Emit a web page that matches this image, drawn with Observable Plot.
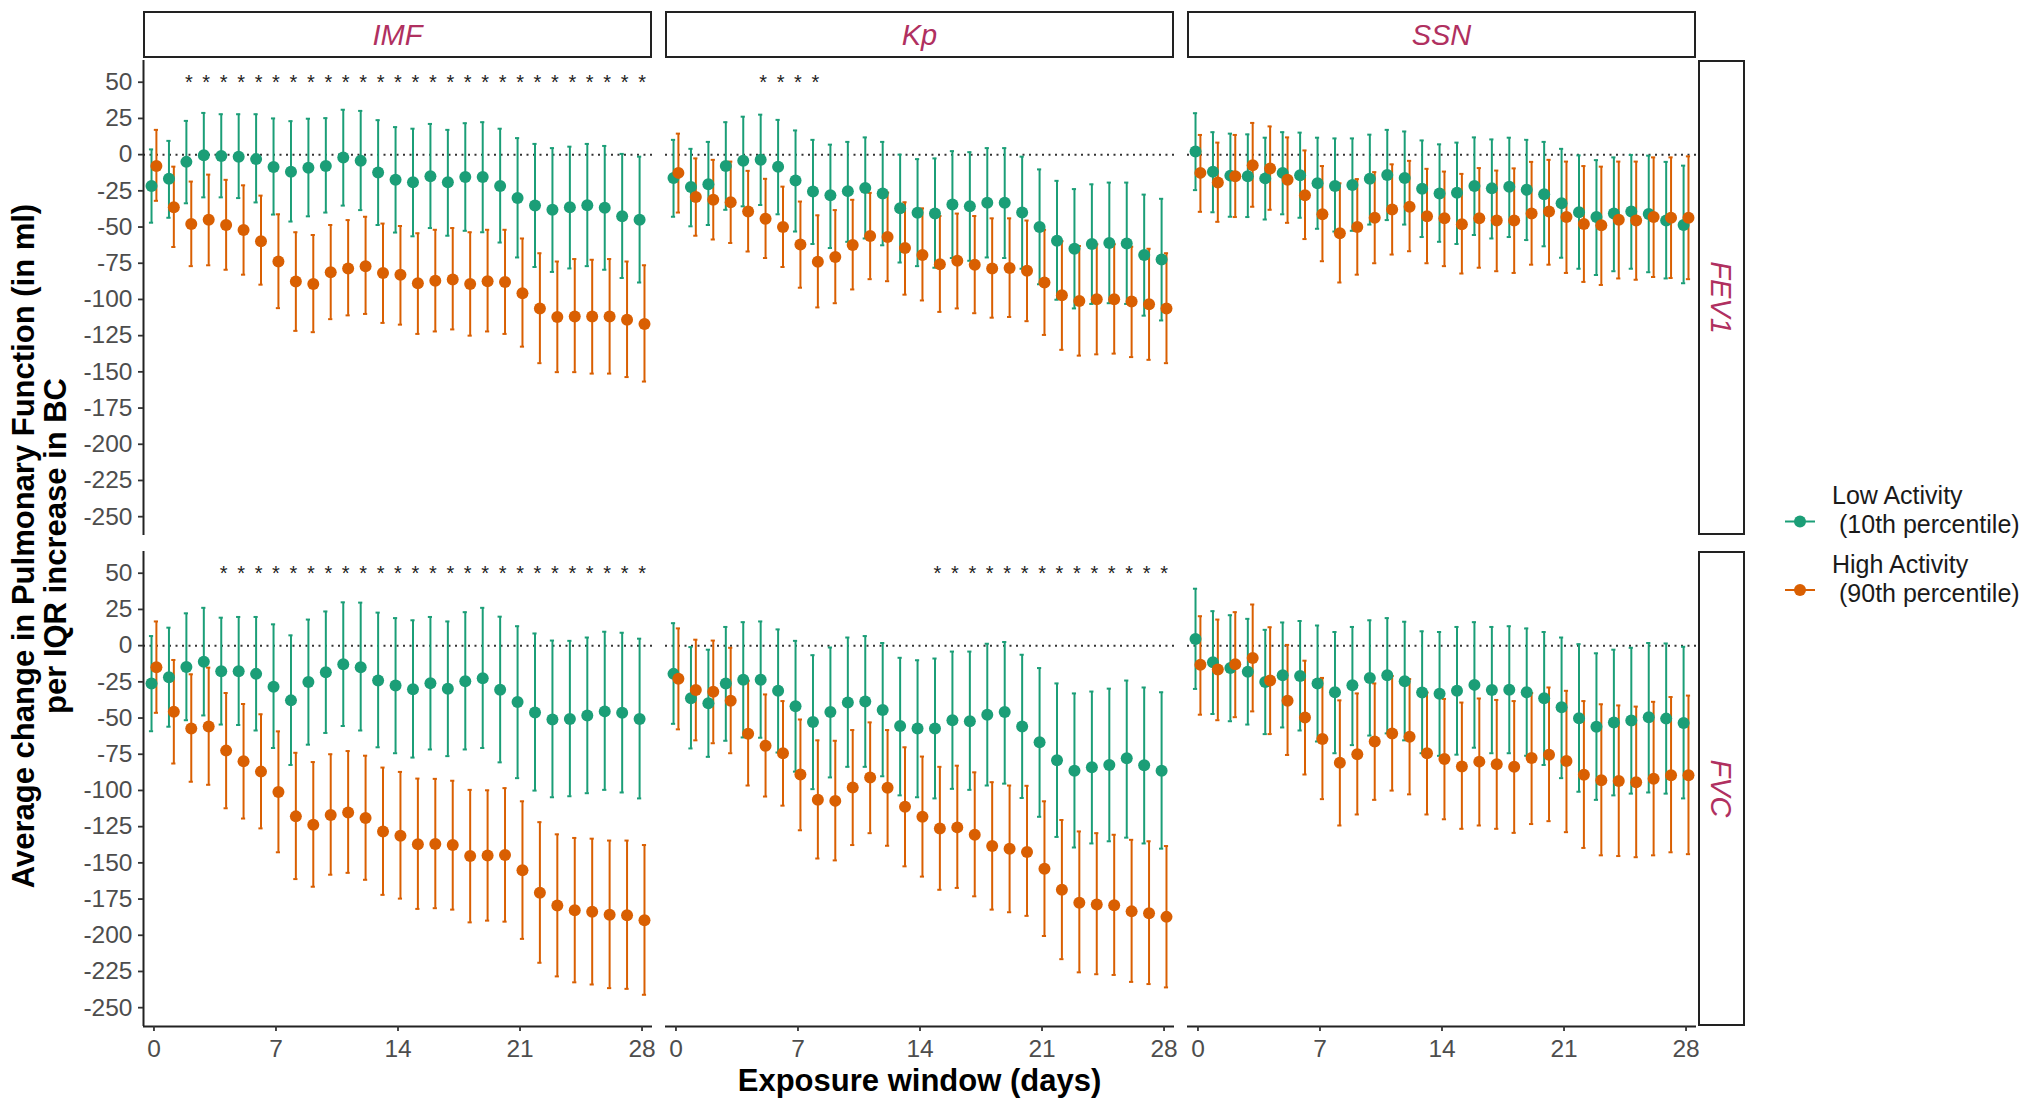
<!DOCTYPE html>
<html><head><meta charset="utf-8">
<script src="https://cdn.jsdelivr.net/npm/d3@7"></script>
<script src="https://cdn.jsdelivr.net/npm/@observablehq/plot@0.6"></script>
<style>
body{margin:0;background:#fff}
#chart{position:relative;width:2040px;height:1108px;background:#fff}
</style>
</head><body><div id="chart"></div>
<script>
// ---------------- data ----------------
const exposures = ["IMF", "Kp", "SSN"];
const outcomes = ["FEV1", "FVC"];
const groups = ["Low", "High"];
const groupLabels = [["Low Activity", "(10th percentile)"], ["High Activity", "(90th percentile)"]];
const groupColors = ["#1B9E77", "#D95F02"];
const days = [0,1,2,3,4,5,6,7,8,9,10,11,12,13,14,15,16,17,18,19,20,21,22,23,24,25,26,27,28];
const xTicks = [0, 7, 14, 21, 28];
const yTicks = [50,25,0,-25,-50,-75,-100,-125,-150,-175,-200,-225,-250];

// IMF / FEV1
const imfFev1LowEst = [-21.7,-16.7,-5,-0.5,-1,-1.4,-3.1,-8.6,-11.9,-9,-7.9,-1.9,-4.3,-12.4,-17.4,-19,-15,-19,-15.5,-15.5,-21.7,-30,-35.2,-38,-36.4,-35,-36.7,-42.6,-45];
const imfFev1LowLo  = [-47,-43.6,-33.6,-29.5,-29.5,-30,-33,-41.4,-46.2,-42.6,-40,-35.2,-38.3,-48.6,-53.8,-56.4,-50.7,-56,-52.6,-53.6,-60.7,-71,-77.6,-81,-78.6,-77,-79.5,-85.2,-88.3];
const imfFev1LowHi  = [3.6,9.5,23.3,28.8,27.9,27.9,27.9,25,23.1,24.8,25.2,31,30.2,23.8,19,17.9,21.2,17.1,21.7,22.4,17.9,11.4,7.4,4.5,5.5,7.4,6,0.5,-1.4];
const imfFev1HighEst = [-7.9,-36.4,-47.9,-45,-48.6,-52.1,-59.8,-73.8,-87.6,-89.3,-81.2,-78.6,-77,-81.7,-83,-88.8,-87.1,-86.2,-89.3,-87.4,-87.9,-95.7,-106.2,-112.1,-111.7,-111.7,-111.7,-114,-116.9];
const imfFev1HighLo  = [-31.9,-63.8,-77,-76.4,-79.5,-82.9,-89.8,-106,-121.7,-122.6,-113.6,-111,-110,-116.2,-117.4,-123.8,-122.1,-120.7,-125,-122.1,-123.8,-132.6,-144,-150.2,-150.2,-151.2,-151.2,-153.6,-156.7];
const imfFev1HighHi  = [17.1,-8.3,-18.6,-13.8,-17.4,-21.2,-28.3,-41.2,-53.6,-55.5,-48.6,-45.2,-42.9,-47.6,-49.3,-54.3,-51.9,-50.7,-53.6,-51.9,-51.9,-57.9,-68.1,-73.8,-72.1,-72.6,-72.1,-73.8,-76.4];
const imfFev1Stars = [2,3,4,5,6,7,8,9,10,11,12,13,14,15,16,17,18,19,20,21,22,23,24,25,26,27,28];

// Kp / FEV1
const kpFev1LowEst = [-16.2,-22.4,-20.5,-7.9,-4.3,-3.6,-8.3,-17.9,-25.5,-28.1,-25.2,-23.1,-26.9,-37.1,-40.2,-40.7,-34.5,-35.7,-33.3,-33.3,-40,-50,-59.5,-65,-61.7,-61,-61.4,-69.3,-72.4];
const kpFev1LowLo  = [-42.9,-49.5,-48.6,-38.1,-35.7,-34.8,-41.2,-53.1,-61.7,-64.5,-60.2,-57.9,-62.6,-74.5,-77,-78.1,-71.4,-73.3,-71,-71.4,-78.8,-89.5,-100.2,-106.2,-103.1,-102.6,-103.1,-111.2,-114.5];
const kpFev1LowHi  = [10.2,4,8.8,22.4,26.2,27.6,24,16.7,10.2,6.9,8.8,11.9,8.8,0,-3.1,-2.6,2.4,1.7,4.5,4.5,-1.4,-10.2,-18.1,-23.8,-20.5,-19.3,-19.3,-27.6,-30.5];
const kpFev1HighEst = [-12.6,-29.3,-31.2,-32.9,-39.3,-44.3,-50,-62.1,-74,-70.7,-62.4,-56.2,-56.9,-64.5,-69.3,-75.7,-73.3,-76,-78.6,-78.3,-80.2,-88.3,-97.1,-101,-99.8,-99.8,-101.4,-103.3,-106.2];
const kpFev1HighLo  = [-40,-56,-58.6,-61,-66.9,-71.4,-77.6,-91.9,-105.5,-102.6,-93.1,-86,-87.4,-96.7,-100.7,-108.6,-106.2,-109.5,-112.6,-112.1,-115,-124.5,-134.8,-138.8,-137.9,-137.4,-139.8,-141.7,-144];
const kpFev1HighHi  = [14.5,-2.6,-3.6,-4.8,-11.2,-16.7,-22.1,-32.4,-41.9,-38.3,-31.2,-26.4,-26.2,-32.9,-37.1,-42.4,-40.7,-42.4,-44,-44,-45.5,-51.9,-59.8,-63.1,-61.9,-61.9,-63.6,-65,-68.1];
const kpFev1Stars = [5,6,7,8];

// SSN / FEV1
const ssnFev1LowEst = [2.1,-11.9,-14.5,-15,-16.4,-12.6,-14.3,-19.8,-21.7,-21,-16.7,-14,-16.2,-23.6,-26.9,-26.4,-21.7,-23.3,-22.1,-24.3,-27.4,-33.6,-39.8,-43.1,-40.7,-39.3,-41,-45.5,-48.6];
const ssnFev1LowLo  = [-24.5,-39.8,-42.9,-43.1,-44.8,-41.2,-43.6,-51.2,-53.1,-52.6,-48.3,-45.2,-48.3,-56.9,-60.2,-61.7,-55.5,-57.9,-56.9,-59,-63.3,-71.2,-78.8,-83.1,-80.5,-78.8,-81.2,-85.5,-88.8];
const ssnFev1LowHi  = [28.6,15.5,14.5,14,11.7,15.5,15.2,11.7,11.2,11.2,13.8,17.1,16,9.8,7.1,8.3,11.9,10.5,11.7,10.2,8.8,4,-0.5,-3.8,-1.9,-0.2,-0.7,-5,-7.6];
const ssnFev1HighEst = [-12.6,-19.3,-15,-7.4,-9.5,-17.4,-28.1,-41.2,-54.3,-50,-43.6,-37.9,-36,-42.6,-44,-48.1,-44,-45.5,-45.5,-40.7,-39.3,-43.1,-47.9,-48.8,-45,-45.5,-43.1,-43.6,-43.6];
const ssnFev1HighLo  = [-39.5,-46.4,-43.1,-36,-38.1,-47.1,-58.3,-73.6,-88.3,-82.9,-75,-69,-66.7,-75,-77,-82.1,-78.1,-80.5,-81.7,-76,-76,-81.7,-87.9,-90,-85.5,-86.4,-84.5,-85.2,-86];
const ssnFev1HighHi  = [13.6,8.3,13.6,21.9,19.5,11.9,2.9,-7.9,-19.8,-16.9,-12.1,-6.7,-4.3,-9.8,-11.7,-13.3,-9.3,-11,-9.5,-5,-3.6,-4.8,-7.9,-8.3,-4.8,-4.8,-1.9,-1.9,-1.2];
const ssnFev1Stars = [];

// IMF / FVC
const imfFvcLowEst = [-26.1,-21.8,-14.7,-11.2,-17.7,-17.7,-19.5,-28.4,-37.8,-25.1,-18.3,-12.9,-15,-24.1,-27.6,-30.2,-25.9,-29.7,-24.6,-22.6,-30.4,-39,-46.1,-51,-50.7,-48.2,-45.4,-46.4,-50.7];
const imfFvcLowLo  = [-59.1,-56,-51.5,-48.2,-54.5,-54.8,-58.6,-70.7,-82.4,-68.4,-60.3,-55.5,-58.6,-70.2,-74.3,-77.3,-71.7,-76.3,-71.7,-70.7,-80.6,-91.5,-100.1,-104.7,-104,-101.9,-99.6,-101.4,-105.5];
const imfFvcLowHi  = [6.6,12.4,22.3,26.1,19.3,19.8,19.8,14.7,7.1,18,23.6,29.9,29.7,22.8,19,17.5,19.8,16.7,23.1,26.1,20,13.4,8.4,3.5,3.3,5.6,9.6,8.9,4.8];
const imfFvcHighEst = [-15,-45.6,-57.3,-55.8,-72.5,-79.9,-87,-101.1,-117.9,-123.7,-116.9,-115.3,-119.1,-128.3,-131.3,-137.2,-136.9,-137.7,-145.3,-145,-144.5,-155.1,-170.6,-179.5,-182.8,-183.8,-185.8,-186.1,-189.6];
const imfFvcHighLo  = [-46.4,-81.4,-94,-96.1,-112.3,-119.4,-126.2,-142.7,-161.2,-166.5,-158.2,-156.9,-161.7,-172.1,-174.7,-181.8,-181.3,-182.3,-191.1,-189.9,-190.6,-202.5,-219,-228.4,-232.5,-234,-236.5,-237,-241.1];
const imfFvcHighHi  = [16.7,-9.9,-19.8,-15.2,-32.7,-40.3,-47.4,-59.2,-74,-80.4,-75,-72.8,-76,-84.2,-87.2,-91.8,-92,-93.3,-99.6,-99.9,-98.4,-107.5,-121.9,-130.3,-132.8,-133.3,-134.6,-134.6,-137.7];
const imfFvcStars = [4,5,6,7,8,9,10,11,12,13,14,15,16,17,18,19,20,21,22,23,24,25,26,27,28];

// Kp / FVC
const kpFvcLowEst = [-19.5,-36.3,-39.8,-26.1,-23.6,-23.6,-31.2,-41.8,-52.7,-45.9,-39.3,-38.5,-44.4,-55.5,-57.3,-57.3,-51.5,-52.2,-47.7,-45.9,-55.8,-66.7,-79.1,-86.4,-83.9,-82.4,-77.8,-82.6,-86.4];
const kpFvcLowLo  = [-54,-71,-76.8,-65.7,-63.4,-63.6,-73.8,-87,-99.1,-91,-83.7,-83.7,-90.2,-103.4,-104.7,-105.5,-98.9,-99.6,-96.6,-95.3,-105.2,-118.2,-132.1,-139.4,-136.6,-135.1,-132.6,-136.6,-140.2];
const kpFvcLowHi  = [15.5,-1,-2.8,12.9,16.2,16.7,11.2,3.3,-6.6,-1.3,5.6,6.6,1.8,-8.4,-10.1,-8.9,-4.1,-4.1,1.3,2.5,-6.3,-15.5,-26.1,-33,-31.7,-29.7,-24.1,-28.9,-32.2];
const kpFvcHighEst = [-22.8,-30.7,-31.9,-38,-60.8,-69.2,-74.3,-89,-106.5,-107.2,-97.9,-91,-98.1,-111.3,-118.1,-126.2,-125.5,-130.6,-138.4,-140.2,-142.5,-154.1,-168.6,-177.5,-178.7,-179.2,-183.5,-184.8,-187.3];
const kpFvcHighLo  = [-57.8,-65.4,-67.4,-74.3,-96.6,-104.2,-110.5,-127.5,-147,-148.3,-137.7,-129.5,-138.2,-152.4,-159.5,-168.6,-167.3,-173.1,-182.3,-184.1,-186.6,-200.5,-216.5,-225.6,-226.9,-227.4,-232.2,-233.7,-236];
const kpFvcHighHi  = [11.9,4.1,3.5,-1.5,-24.3,-33.7,-38.3,-51,-65.4,-65.7,-58.3,-53,-58.3,-70.2,-76.6,-83.7,-82.9,-87.5,-94.3,-96.6,-96.8,-107.5,-120.4,-128.3,-129.5,-130.6,-134.1,-135.1,-138.4];
const kpFvcStars = [15,16,17,18,19,20,21,22,23,24,25,26,27,28];

// SSN / FVC
const ssnFvcLowEst = [4.6,-11.4,-15.5,-18,-25.1,-20.5,-21,-26.1,-32.2,-27.4,-22.3,-20.5,-24.6,-32.4,-33.2,-31.2,-27.1,-30.7,-30.4,-32.2,-36.3,-42.6,-50.2,-56,-53,-51.7,-49.4,-50.4,-53.5];
const ssnFvcLowLo  = [-29.9,-47.2,-52.2,-54.5,-61.1,-56.5,-58.6,-66.2,-74.3,-68.7,-62.1,-60.6,-65.4,-74.3,-76.1,-75.3,-70.5,-74.3,-74.3,-76.1,-82.4,-91.5,-100.9,-106.5,-103.4,-102.2,-101.4,-102.2,-105.5];
const ssnFvcLowHi  = [39.3,23.8,21,18.5,10.9,16,17,13.9,9.4,12.9,17.5,19,16.5,9.9,9.4,12.9,16.2,12.9,13.4,11.9,9.4,5.6,1,-5.3,-2.8,-1.5,1.8,1.5,-0.8];
const ssnFvcHighEst = [-13.2,-16.5,-12.9,-8.6,-24.1,-38,-49.7,-64.4,-80.9,-75,-66.2,-60.6,-62.9,-74.3,-78.3,-83.4,-80.1,-81.9,-83.7,-77.6,-75.3,-79.6,-89.2,-93,-93.5,-94.3,-92,-89.5,-89.5];
const ssnFvcHighLo  = [-47.7,-51.5,-49.4,-45.4,-61.1,-75.5,-89,-106,-124.2,-116.6,-106.5,-100.1,-102.7,-116.6,-119.9,-126.5,-124.2,-126.5,-129.3,-123.2,-121.2,-128.8,-139.7,-144.8,-145.3,-146.1,-144.8,-142.7,-144];
const ssnFvcHighHi  = [20.3,18,23.1,28.4,12.7,0.5,-10.4,-22.3,-37.8,-33,-26.1,-21,-23.1,-32.4,-36.8,-39.3,-36.5,-37.5,-38.3,-32.7,-28.9,-31.2,-38.3,-40.5,-41.3,-42.1,-38.8,-35.5,-34.5];
const ssnFvcStars = [];

const starLevel = 53.5; // value at which the significance stars sit

// --------------- assemble tables ---------------
const panels = [
  {fx: "IMF", fy: "FEV1", Low: [imfFev1LowEst, imfFev1LowLo, imfFev1LowHi], High: [imfFev1HighEst, imfFev1HighLo, imfFev1HighHi], stars: imfFev1Stars},
  {fx: "Kp",  fy: "FEV1", Low: [kpFev1LowEst, kpFev1LowLo, kpFev1LowHi], High: [kpFev1HighEst, kpFev1HighLo, kpFev1HighHi], stars: kpFev1Stars},
  {fx: "SSN", fy: "FEV1", Low: [ssnFev1LowEst, ssnFev1LowLo, ssnFev1LowHi], High: [ssnFev1HighEst, ssnFev1HighLo, ssnFev1HighHi], stars: ssnFev1Stars},
  {fx: "IMF", fy: "FVC",  Low: [imfFvcLowEst, imfFvcLowLo, imfFvcLowHi], High: [imfFvcHighEst, imfFvcHighLo, imfFvcHighHi], stars: imfFvcStars},
  {fx: "Kp",  fy: "FVC",  Low: [kpFvcLowEst, kpFvcLowLo, kpFvcLowHi], High: [kpFvcHighEst, kpFvcHighLo, kpFvcHighHi], stars: kpFvcStars},
  {fx: "SSN", fy: "FVC",  Low: [ssnFvcLowEst, ssnFvcLowLo, ssnFvcLowHi], High: [ssnFvcHighEst, ssnFvcHighLo, ssnFvcHighHi], stars: ssnFvcStars}
];
const dodge = {Low: -0.14, High: 0.14};
const capHalf = 0.12;

const rows = panels.flatMap(p => groups.flatMap(g => days.map((d, i) => ({
  fx: p.fx, fy: p.fy, group: g, day: d, xd: d + dodge[g],
  est: p[g][0][i], lo: p[g][1][i], hi: p[g][2][i]
}))));
const stars = panels.flatMap(p => p.stars.map(d => ({fx: p.fx, fy: p.fy, day: d})));
const leftEdges = outcomes.map(o => ({fx: exposures[0], fy: o}));
const bottomEdges = exposures.map(e => ({fx: e, fy: outcomes[outcomes.length - 1]}));

const xDomain = [-0.6, 28.6];
const yDomain = [-263, 65];
const font = "'Liberation Sans', Arial, Helvetica, sans-serif";

const plot = Plot.plot({
  width: 2040, height: 1108,
  marginLeft: 142, marginRight: 343, marginTop: 60, marginBottom: 82,
  style: {fontFamily: font, fontSize: "24px", background: "#fff", overflow: "visible"},
  x: {domain: xDomain, label: null},
  y: {domain: yDomain, label: null},
  fx: {domain: exposures, paddingInner: 0.0254, paddingOuter: 0, axis: null, label: null},
  fy: {domain: outcomes, paddingInner: 0.0326, paddingOuter: 0, axis: null, label: null},
  color: {domain: groups, range: groupColors},
  marks: [
    Plot.ruleY([0], {stroke: "#333", strokeWidth: 2, strokeDasharray: "2,4.5"}),
    Plot.ruleX(rows, {x: "xd", y1: "lo", y2: "hi", stroke: "group", strokeWidth: 2, fx: "fx", fy: "fy"}),
    Plot.ruleY(rows, {x1: d => d.xd - capHalf, x2: d => d.xd + capHalf, y: "lo", stroke: "group", strokeWidth: 2, fx: "fx", fy: "fy"}),
    Plot.ruleY(rows, {x1: d => d.xd - capHalf, x2: d => d.xd + capHalf, y: "hi", stroke: "group", strokeWidth: 2, fx: "fx", fy: "fy"}),
    Plot.dot(rows, {x: "xd", y: "est", fill: "group", r: 6, fx: "fx", fy: "fy"}),
    Plot.text(stars, {x: "day", y: () => starLevel, text: () => "*", fx: "fx", fy: "fy", fontSize: 20, dy: 5, fill: "#222"}),
    Plot.ruleX(leftEdges, {x: () => xDomain[0], fx: "fx", fy: "fy", stroke: "#222", strokeWidth: 2}),
    Plot.ruleY(bottomEdges, {y: () => yDomain[0], fx: "fx", fy: "fy", stroke: "#222", strokeWidth: 2}),
    Plot.axisY({ticks: yTicks, tickFormat: d => String(d), tickSize: 5, tickPadding: 6, stroke: "#333", strokeWidth: 1.8, fill: "#4D4D4D", fontSize: 24.5, label: null}),
    Plot.axisX({ticks: xTicks, tickFormat: d => String(d), tickSize: 5, tickPadding: 8, stroke: "#333", strokeWidth: 1.8, fill: "#4D4D4D", fontSize: 24.5, label: null})
  ]
});

document.getElementById("chart").appendChild(plot);

// --------------- strips, titles, legend ---------------
const svg = d3.select(plot);
const fxs = plot.scale("fx"), fys = plot.scale("fy");
const xr = [142, 2040 - 343];
const fxBand = fxs.bandwidth != null ? fxs.bandwidth : (xr[1] - xr[0]) / (3 - 2 * 0.0254);
const fyBand = fys.bandwidth != null ? fys.bandwidth : (1108 - 60 - 82) / (2 - 0.0326);
const stripColor = "#B03060";
const g = svg.append("g");

exposures.forEach(e => {
  const x0 = fxs.apply(e);
  g.append("rect").attr("x", x0 + 1).attr("y", 12).attr("width", fxBand - 2).attr("height", 45)
    .attr("fill", "#fff").attr("stroke", "#222").attr("stroke-width", 2);
  g.append("text").attr("x", x0 + fxBand / 2).attr("y", 35).attr("dy", "0.36em")
    .attr("text-anchor", "middle").attr("font-style", "italic").attr("font-size", 29)
    .attr("fill", stripColor).text(e);
});
const rx0 = xr[1] + 1, rw = 45;
outcomes.forEach(o => {
  const y0 = fys.apply(o);
  g.append("rect").attr("x", rx0 + 1).attr("y", y0 + 1).attr("width", rw).attr("height", fyBand - 2)
    .attr("fill", "#fff").attr("stroke", "#222").attr("stroke-width", 2);
  g.append("text").attr("transform", `translate(${rx0 + 1 + rw / 2},${y0 + fyBand / 2}) rotate(90)`)
    .attr("dy", "0.36em").attr("text-anchor", "middle").attr("font-style", "italic").attr("font-size", 29)
    .attr("fill", stripColor).text(o);
});

// axis titles
const midX = (xr[0] + xr[1]) / 2;
g.append("text").attr("x", midX).attr("y", 1091).attr("text-anchor", "middle")
  .attr("font-weight", "bold").attr("font-size", 31).attr("fill", "#000").text("Exposure window (days)");
const yt = g.append("text").attr("transform", "translate(0,546) rotate(-90)")
  .attr("text-anchor", "middle").attr("font-weight", "bold").attr("font-size", 31).attr("fill", "#000");
yt.append("tspan").attr("x", 0).attr("y", 34).text("Average change in Pulmonary Function (in ml)");
yt.append("tspan").attr("x", 0).attr("y", 66).text("per IQR increase in BC");

// legend
const legendKeysY = [521.5, 590];
groups.forEach((grp, i) => {
  const ky = legendKeysY[i];
  g.append("line").attr("x1", 1785).attr("x2", 1815).attr("y1", ky).attr("y2", ky)
    .attr("stroke", groupColors[i]).attr("stroke-width", 2);
  g.append("circle").attr("cx", 1800).attr("cy", ky).attr("r", 6).attr("fill", groupColors[i]);
  g.append("text").attr("x", 1832).attr("y", ky - 17.5).attr("text-anchor", "start").attr("font-size", 25).attr("fill", "#1a1a1a").text(groupLabels[i][0]);
  g.append("text").attr("x", 1839).attr("y", ky + 11.5).attr("text-anchor", "start").attr("font-size", 25).attr("fill", "#1a1a1a").text(groupLabels[i][1]);
});
</script></body></html>
